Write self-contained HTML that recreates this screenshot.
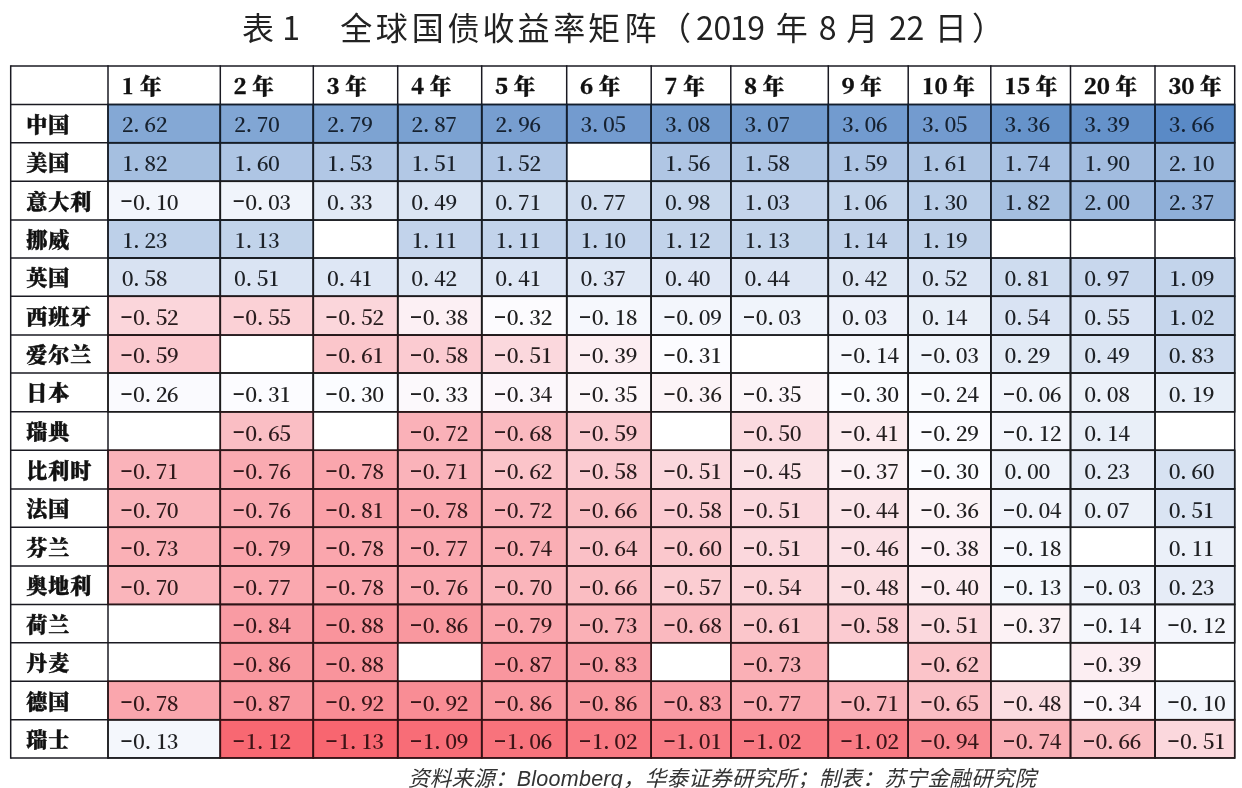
<!DOCTYPE html>
<html lang="zh-CN"><head><meta charset="utf-8"><title>表1 全球国债收益率矩阵</title>
<style>
html,body{margin:0;padding:0;background:#fff;}
body{width:1242px;height:788px;overflow:hidden;}
svg{display:block;filter:blur(0.45px);}
.title{font-family:"Noto Sans CJK SC","Liberation Sans",sans-serif;font-weight:400;font-size:32px;fill:#222;text-anchor:middle;}
.hd{font-family:"Noto Serif CJK SC","Liberation Serif",serif;font-weight:900;font-size:21.5px;fill:#111;stroke:#111;stroke-width:0.35px;text-anchor:middle;}
.ct{font-family:"Liberation Serif","Noto Serif CJK SC",serif;font-weight:900;font-size:21px;letter-spacing:1px;fill:#111;stroke:#111;stroke-width:0.45px;}
.num{font-family:"Noto Serif CJK SC","Liberation Serif",serif;font-weight:600;font-size:20.6px;text-anchor:middle;}
.dash{font-family:"IPAGothic","Liberation Mono",monospace;font-weight:400;font-size:25px;}
.ft{font-family:"Liberation Sans","Noto Sans CJK SC",sans-serif;font-style:italic;font-size:21.5px;letter-spacing:0.25px;fill:#333;}
</style></head><body>
<svg width="1242" height="788" viewBox="0 0 1242 788">
<rect x="0" y="0" width="1242" height="788" fill="#ffffff"/>
<text class="title" xml:space="preserve" y="39.5" x="257.9 274.5 291.2 323.8 356.3 391.7 427.8 463.6 498.4 533.6 569.3 604.0 640.6 675.0 704.8 722.4 739.0 756.1 774.0 791.8 809.7 827.6 844.9 862.2 880.0 897.9 915.5 933.1 950.7 988.0">表 1　全球国债收益率矩阵（2019 年 8 月 22 日）</text>
<rect x="108.0" y="104.50" width="112.3" height="38.20" fill="#84a8d5"/>
<rect x="220.3" y="104.50" width="93.0" height="38.20" fill="#81a6d4"/>
<rect x="313.3" y="104.50" width="84.4" height="38.20" fill="#7da3d2"/>
<rect x="397.7" y="104.50" width="84.0" height="38.20" fill="#7aa1d1"/>
<rect x="481.7" y="104.50" width="85.0" height="38.20" fill="#779ed0"/>
<rect x="566.7" y="104.50" width="84.5" height="38.20" fill="#739bcf"/>
<rect x="651.2" y="104.50" width="79.6" height="38.20" fill="#729bce"/>
<rect x="730.8" y="104.50" width="97.5" height="38.20" fill="#729bce"/>
<rect x="828.3" y="104.50" width="79.9" height="38.20" fill="#729bcf"/>
<rect x="908.2" y="104.50" width="82.6" height="38.20" fill="#739bcf"/>
<rect x="990.8" y="104.50" width="79.7" height="38.20" fill="#6693ca"/>
<rect x="1070.5" y="104.50" width="84.5" height="38.20" fill="#6592ca"/>
<rect x="1155.0" y="104.50" width="79.7" height="38.20" fill="#5a8ac6"/>
<rect x="108.0" y="142.70" width="112.3" height="38.60" fill="#a5bfe0"/>
<rect x="220.3" y="142.70" width="93.0" height="38.60" fill="#aec5e4"/>
<rect x="313.3" y="142.70" width="84.4" height="38.60" fill="#b1c7e5"/>
<rect x="397.7" y="142.70" width="84.0" height="38.60" fill="#b2c8e5"/>
<rect x="481.7" y="142.70" width="85.0" height="38.60" fill="#b1c7e5"/>
<rect x="651.2" y="142.70" width="79.6" height="38.60" fill="#b0c6e4"/>
<rect x="730.8" y="142.70" width="97.5" height="38.60" fill="#afc6e4"/>
<rect x="828.3" y="142.70" width="79.9" height="38.60" fill="#aec5e4"/>
<rect x="908.2" y="142.70" width="82.6" height="38.60" fill="#aec5e3"/>
<rect x="990.8" y="142.70" width="79.7" height="38.60" fill="#a8c1e2"/>
<rect x="1070.5" y="142.70" width="84.5" height="38.60" fill="#a2bcdf"/>
<rect x="1155.0" y="142.70" width="79.7" height="38.60" fill="#9ab7dc"/>
<rect x="108.0" y="181.30" width="112.3" height="38.80" fill="#f3f6fc"/>
<rect x="220.3" y="181.30" width="93.0" height="38.80" fill="#f0f4fb"/>
<rect x="313.3" y="181.30" width="84.4" height="38.80" fill="#e2eaf6"/>
<rect x="397.7" y="181.30" width="84.0" height="38.80" fill="#dbe5f3"/>
<rect x="481.7" y="181.30" width="85.0" height="38.80" fill="#d2dff0"/>
<rect x="566.7" y="181.30" width="84.5" height="38.80" fill="#d0ddef"/>
<rect x="651.2" y="181.30" width="79.6" height="38.80" fill="#c7d7ec"/>
<rect x="730.8" y="181.30" width="97.5" height="38.80" fill="#c5d5ec"/>
<rect x="828.3" y="181.30" width="79.9" height="38.80" fill="#c4d5eb"/>
<rect x="908.2" y="181.30" width="82.6" height="38.80" fill="#bacee8"/>
<rect x="990.8" y="181.30" width="79.7" height="38.80" fill="#a5bfe0"/>
<rect x="1070.5" y="181.30" width="84.5" height="38.80" fill="#9ebade"/>
<rect x="1155.0" y="181.30" width="79.7" height="38.80" fill="#8fafd8"/>
<rect x="108.0" y="220.10" width="112.3" height="37.90" fill="#bdd0e9"/>
<rect x="220.3" y="220.10" width="93.0" height="37.90" fill="#c1d3ea"/>
<rect x="397.7" y="220.10" width="84.0" height="37.90" fill="#c2d3eb"/>
<rect x="481.7" y="220.10" width="85.0" height="37.90" fill="#c2d3eb"/>
<rect x="566.7" y="220.10" width="84.5" height="37.90" fill="#c2d3eb"/>
<rect x="651.2" y="220.10" width="79.6" height="37.90" fill="#c2d3ea"/>
<rect x="730.8" y="220.10" width="97.5" height="37.90" fill="#c1d3ea"/>
<rect x="828.3" y="220.10" width="79.9" height="37.90" fill="#c1d2ea"/>
<rect x="908.2" y="220.10" width="82.6" height="37.90" fill="#bfd1e9"/>
<rect x="108.0" y="258.00" width="112.3" height="38.30" fill="#d8e2f2"/>
<rect x="220.3" y="258.00" width="93.0" height="38.30" fill="#dae4f3"/>
<rect x="313.3" y="258.00" width="84.4" height="38.30" fill="#dee7f5"/>
<rect x="397.7" y="258.00" width="84.0" height="38.30" fill="#dee7f4"/>
<rect x="481.7" y="258.00" width="85.0" height="38.30" fill="#dee7f5"/>
<rect x="566.7" y="258.00" width="84.5" height="38.30" fill="#e0e8f5"/>
<rect x="651.2" y="258.00" width="79.6" height="38.30" fill="#dfe7f5"/>
<rect x="730.8" y="258.00" width="97.5" height="38.30" fill="#dde6f4"/>
<rect x="828.3" y="258.00" width="79.9" height="38.30" fill="#dee7f4"/>
<rect x="908.2" y="258.00" width="82.6" height="38.30" fill="#dae4f3"/>
<rect x="990.8" y="258.00" width="79.7" height="38.30" fill="#cedcef"/>
<rect x="1070.5" y="258.00" width="84.5" height="38.30" fill="#c8d7ed"/>
<rect x="1155.0" y="258.00" width="79.7" height="38.30" fill="#c3d4eb"/>
<rect x="108.0" y="296.30" width="112.3" height="38.80" fill="#fbd6db"/>
<rect x="220.3" y="296.30" width="93.0" height="38.80" fill="#fbd1d6"/>
<rect x="313.3" y="296.30" width="84.4" height="38.80" fill="#fbd6db"/>
<rect x="397.7" y="296.30" width="84.0" height="38.80" fill="#fcf0f4"/>
<rect x="481.7" y="296.30" width="85.0" height="38.80" fill="#fcfbfe"/>
<rect x="566.7" y="296.30" width="84.5" height="38.80" fill="#f6f8fd"/>
<rect x="651.2" y="296.30" width="79.6" height="38.80" fill="#f3f6fc"/>
<rect x="730.8" y="296.30" width="97.5" height="38.80" fill="#f0f4fb"/>
<rect x="828.3" y="296.30" width="79.9" height="38.80" fill="#eef2fa"/>
<rect x="908.2" y="296.30" width="82.6" height="38.80" fill="#e9eff8"/>
<rect x="990.8" y="296.30" width="79.7" height="38.80" fill="#d9e3f3"/>
<rect x="1070.5" y="296.30" width="84.5" height="38.80" fill="#d9e3f3"/>
<rect x="1155.0" y="296.30" width="79.7" height="38.80" fill="#c6d6ec"/>
<rect x="108.0" y="335.10" width="112.3" height="37.90" fill="#fbc9cf"/>
<rect x="313.3" y="335.10" width="84.4" height="37.90" fill="#fbc6cb"/>
<rect x="397.7" y="335.10" width="84.0" height="37.90" fill="#fbcbd1"/>
<rect x="481.7" y="335.10" width="85.0" height="37.90" fill="#fbd8dd"/>
<rect x="566.7" y="335.10" width="84.5" height="37.90" fill="#fceef2"/>
<rect x="651.2" y="335.10" width="79.6" height="37.90" fill="#fcfcff"/>
<rect x="828.3" y="335.10" width="79.9" height="37.90" fill="#f5f7fc"/>
<rect x="908.2" y="335.10" width="82.6" height="37.90" fill="#f0f4fb"/>
<rect x="990.8" y="335.10" width="79.7" height="37.90" fill="#e3ebf6"/>
<rect x="1070.5" y="335.10" width="84.5" height="37.90" fill="#dbe5f3"/>
<rect x="1155.0" y="335.10" width="79.7" height="37.90" fill="#cddbef"/>
<rect x="108.0" y="373.00" width="112.3" height="38.80" fill="#fafafe"/>
<rect x="220.3" y="373.00" width="93.0" height="38.80" fill="#fcfcff"/>
<rect x="313.3" y="373.00" width="84.4" height="38.80" fill="#fbfcff"/>
<rect x="397.7" y="373.00" width="84.0" height="38.80" fill="#fcf9fc"/>
<rect x="481.7" y="373.00" width="85.0" height="38.80" fill="#fcf7fb"/>
<rect x="566.7" y="373.00" width="84.5" height="38.80" fill="#fcf6f9"/>
<rect x="651.2" y="373.00" width="79.6" height="38.80" fill="#fcf4f7"/>
<rect x="730.8" y="373.00" width="97.5" height="38.80" fill="#fcf6f9"/>
<rect x="828.3" y="373.00" width="79.9" height="38.80" fill="#fbfcff"/>
<rect x="908.2" y="373.00" width="82.6" height="38.80" fill="#f9fafe"/>
<rect x="990.8" y="373.00" width="79.7" height="38.80" fill="#f2f5fb"/>
<rect x="1070.5" y="373.00" width="84.5" height="38.80" fill="#ecf1f9"/>
<rect x="1155.0" y="373.00" width="79.7" height="38.80" fill="#e7eef8"/>
<rect x="220.3" y="411.80" width="93.0" height="38.50" fill="#fabec4"/>
<rect x="397.7" y="411.80" width="84.0" height="38.50" fill="#fab1b8"/>
<rect x="481.7" y="411.80" width="85.0" height="38.50" fill="#fab9bf"/>
<rect x="566.7" y="411.80" width="84.5" height="38.50" fill="#fbc9cf"/>
<rect x="730.8" y="411.80" width="97.5" height="38.50" fill="#fbdadf"/>
<rect x="828.3" y="411.80" width="79.9" height="38.50" fill="#fcebee"/>
<rect x="908.2" y="411.80" width="82.6" height="38.50" fill="#fbfbff"/>
<rect x="990.8" y="411.80" width="79.7" height="38.50" fill="#f4f6fc"/>
<rect x="1070.5" y="411.80" width="84.5" height="38.50" fill="#e9eff8"/>
<rect x="108.0" y="450.30" width="112.3" height="38.60" fill="#fab3ba"/>
<rect x="220.3" y="450.30" width="93.0" height="38.60" fill="#faaab1"/>
<rect x="313.3" y="450.30" width="84.4" height="38.60" fill="#faa6ad"/>
<rect x="397.7" y="450.30" width="84.0" height="38.60" fill="#fab3ba"/>
<rect x="481.7" y="450.30" width="85.0" height="38.60" fill="#fbc4c9"/>
<rect x="566.7" y="450.30" width="84.5" height="38.60" fill="#fbcbd1"/>
<rect x="651.2" y="450.30" width="79.6" height="38.60" fill="#fbd8dd"/>
<rect x="730.8" y="450.30" width="97.5" height="38.60" fill="#fbe3e7"/>
<rect x="828.3" y="450.30" width="79.9" height="38.60" fill="#fcf2f5"/>
<rect x="908.2" y="450.30" width="82.6" height="38.60" fill="#fbfcff"/>
<rect x="990.8" y="450.30" width="79.7" height="38.60" fill="#eff3fa"/>
<rect x="1070.5" y="450.30" width="84.5" height="38.60" fill="#e6ecf7"/>
<rect x="1155.0" y="450.30" width="79.7" height="38.60" fill="#d7e2f2"/>
<rect x="108.0" y="488.90" width="112.3" height="38.40" fill="#fab5bb"/>
<rect x="220.3" y="488.90" width="93.0" height="38.40" fill="#faaab1"/>
<rect x="313.3" y="488.90" width="84.4" height="38.40" fill="#faa1a8"/>
<rect x="397.7" y="488.90" width="84.0" height="38.40" fill="#faa6ad"/>
<rect x="481.7" y="488.90" width="85.0" height="38.40" fill="#fab1b8"/>
<rect x="566.7" y="488.90" width="84.5" height="38.40" fill="#fabdc2"/>
<rect x="651.2" y="488.90" width="79.6" height="38.40" fill="#fbcbd1"/>
<rect x="730.8" y="488.90" width="97.5" height="38.40" fill="#fbd8dd"/>
<rect x="828.3" y="488.90" width="79.9" height="38.40" fill="#fbe5e9"/>
<rect x="908.2" y="488.90" width="82.6" height="38.40" fill="#fcf4f7"/>
<rect x="990.8" y="488.90" width="79.7" height="38.40" fill="#f1f4fb"/>
<rect x="1070.5" y="488.90" width="84.5" height="38.40" fill="#ecf1f9"/>
<rect x="1155.0" y="488.90" width="79.7" height="38.40" fill="#dae4f3"/>
<rect x="108.0" y="527.30" width="112.3" height="38.60" fill="#fab0b6"/>
<rect x="220.3" y="527.30" width="93.0" height="38.60" fill="#faa5ac"/>
<rect x="313.3" y="527.30" width="84.4" height="38.60" fill="#faa6ad"/>
<rect x="397.7" y="527.30" width="84.0" height="38.60" fill="#faa8af"/>
<rect x="481.7" y="527.30" width="85.0" height="38.60" fill="#faaeb4"/>
<rect x="566.7" y="527.30" width="84.5" height="38.60" fill="#fac0c6"/>
<rect x="651.2" y="527.30" width="79.6" height="38.60" fill="#fbc8cd"/>
<rect x="730.8" y="527.30" width="97.5" height="38.60" fill="#fbd8dd"/>
<rect x="828.3" y="527.30" width="79.9" height="38.60" fill="#fbe1e6"/>
<rect x="908.2" y="527.30" width="82.6" height="38.60" fill="#fcf0f4"/>
<rect x="990.8" y="527.30" width="79.7" height="38.60" fill="#f6f8fd"/>
<rect x="1155.0" y="527.30" width="79.7" height="38.60" fill="#ebf0f9"/>
<rect x="108.0" y="565.90" width="112.3" height="38.50" fill="#fab5bb"/>
<rect x="220.3" y="565.90" width="93.0" height="38.50" fill="#faa8af"/>
<rect x="313.3" y="565.90" width="84.4" height="38.50" fill="#faa6ad"/>
<rect x="397.7" y="565.90" width="84.0" height="38.50" fill="#faaab1"/>
<rect x="481.7" y="565.90" width="85.0" height="38.50" fill="#fab5bb"/>
<rect x="566.7" y="565.90" width="84.5" height="38.50" fill="#fabdc2"/>
<rect x="651.2" y="565.90" width="79.6" height="38.50" fill="#fbcdd2"/>
<rect x="730.8" y="565.90" width="97.5" height="38.50" fill="#fbd3d8"/>
<rect x="828.3" y="565.90" width="79.9" height="38.50" fill="#fbdee2"/>
<rect x="908.2" y="565.90" width="82.6" height="38.50" fill="#fcecf0"/>
<rect x="990.8" y="565.90" width="79.7" height="38.50" fill="#f4f7fc"/>
<rect x="1070.5" y="565.90" width="84.5" height="38.50" fill="#f0f4fb"/>
<rect x="1155.0" y="565.90" width="79.7" height="38.50" fill="#e6ecf7"/>
<rect x="220.3" y="604.40" width="93.0" height="38.30" fill="#f99ba3"/>
<rect x="313.3" y="604.40" width="84.4" height="38.30" fill="#f9949c"/>
<rect x="397.7" y="604.40" width="84.0" height="38.30" fill="#f9989f"/>
<rect x="481.7" y="604.40" width="85.0" height="38.30" fill="#faa5ac"/>
<rect x="566.7" y="604.40" width="84.5" height="38.30" fill="#fab0b6"/>
<rect x="651.2" y="604.40" width="79.6" height="38.30" fill="#fab9bf"/>
<rect x="730.8" y="604.40" width="97.5" height="38.30" fill="#fbc6cb"/>
<rect x="828.3" y="604.40" width="79.9" height="38.30" fill="#fbcbd1"/>
<rect x="908.2" y="604.40" width="82.6" height="38.30" fill="#fbd8dd"/>
<rect x="990.8" y="604.40" width="79.7" height="38.30" fill="#fcf2f5"/>
<rect x="1070.5" y="604.40" width="84.5" height="38.30" fill="#f5f7fc"/>
<rect x="1155.0" y="604.40" width="79.7" height="38.30" fill="#f4f6fc"/>
<rect x="220.3" y="642.70" width="93.0" height="38.60" fill="#f9989f"/>
<rect x="313.3" y="642.70" width="84.4" height="38.60" fill="#f9949c"/>
<rect x="481.7" y="642.70" width="85.0" height="38.60" fill="#f9969e"/>
<rect x="566.7" y="642.70" width="84.5" height="38.60" fill="#f99da5"/>
<rect x="730.8" y="642.70" width="97.5" height="38.60" fill="#fab0b6"/>
<rect x="908.2" y="642.70" width="82.6" height="38.60" fill="#fbc4c9"/>
<rect x="1070.5" y="642.70" width="84.5" height="38.60" fill="#fceef2"/>
<rect x="108.0" y="681.30" width="112.3" height="38.40" fill="#faa6ad"/>
<rect x="220.3" y="681.30" width="93.0" height="38.40" fill="#f9969e"/>
<rect x="313.3" y="681.30" width="84.4" height="38.40" fill="#f98d95"/>
<rect x="397.7" y="681.30" width="84.0" height="38.40" fill="#f98d95"/>
<rect x="481.7" y="681.30" width="85.0" height="38.40" fill="#f9989f"/>
<rect x="566.7" y="681.30" width="84.5" height="38.40" fill="#f9989f"/>
<rect x="651.2" y="681.30" width="79.6" height="38.40" fill="#f99da5"/>
<rect x="730.8" y="681.30" width="97.5" height="38.40" fill="#faa8af"/>
<rect x="828.3" y="681.30" width="79.9" height="38.40" fill="#fab3ba"/>
<rect x="908.2" y="681.30" width="82.6" height="38.40" fill="#fabec4"/>
<rect x="990.8" y="681.30" width="79.7" height="38.40" fill="#fbdee2"/>
<rect x="1070.5" y="681.30" width="84.5" height="38.40" fill="#fcf7fb"/>
<rect x="1155.0" y="681.30" width="79.7" height="38.40" fill="#f3f6fc"/>
<rect x="108.0" y="719.70" width="112.3" height="38.20" fill="#f4f7fc"/>
<rect x="220.3" y="719.70" width="93.0" height="38.20" fill="#f86872"/>
<rect x="313.3" y="719.70" width="84.4" height="38.20" fill="#f86670"/>
<rect x="397.7" y="719.70" width="84.0" height="38.20" fill="#f86d77"/>
<rect x="481.7" y="719.70" width="85.0" height="38.20" fill="#f8737c"/>
<rect x="566.7" y="719.70" width="84.5" height="38.20" fill="#f97a83"/>
<rect x="651.2" y="719.70" width="79.6" height="38.20" fill="#f97c85"/>
<rect x="730.8" y="719.70" width="97.5" height="38.20" fill="#f97a83"/>
<rect x="828.3" y="719.70" width="79.9" height="38.20" fill="#f97a83"/>
<rect x="908.2" y="719.70" width="82.6" height="38.20" fill="#f98991"/>
<rect x="990.8" y="719.70" width="79.7" height="38.20" fill="#faaeb4"/>
<rect x="1070.5" y="719.70" width="84.5" height="38.20" fill="#fabdc2"/>
<rect x="1155.0" y="719.70" width="79.7" height="38.20" fill="#fbd8dd"/>
<g stroke="#1a1a22" stroke-width="1.5" fill="none">
<line x1="10.7" y1="65.35" x2="10.7" y2="758.65"/>
<line x1="108.0" y1="65.35" x2="108.0" y2="758.65"/>
<line x1="220.3" y1="65.35" x2="220.3" y2="758.65"/>
<line x1="313.3" y1="65.35" x2="313.3" y2="758.65"/>
<line x1="397.7" y1="65.35" x2="397.7" y2="758.65"/>
<line x1="481.7" y1="65.35" x2="481.7" y2="758.65"/>
<line x1="566.7" y1="65.35" x2="566.7" y2="758.65"/>
<line x1="651.2" y1="65.35" x2="651.2" y2="758.65"/>
<line x1="730.8" y1="65.35" x2="730.8" y2="758.65"/>
<line x1="828.3" y1="65.35" x2="828.3" y2="758.65"/>
<line x1="908.2" y1="65.35" x2="908.2" y2="758.65"/>
<line x1="990.8" y1="65.35" x2="990.8" y2="758.65"/>
<line x1="1070.5" y1="65.35" x2="1070.5" y2="758.65"/>
<line x1="1155.0" y1="65.35" x2="1155.0" y2="758.65"/>
<line x1="1234.7" y1="65.35" x2="1234.7" y2="758.65"/>
<line x1="10.7" y1="66.10" x2="1234.7" y2="66.10"/>
<line x1="10.7" y1="104.50" x2="1234.7" y2="104.50"/>
<line x1="10.7" y1="142.70" x2="1234.7" y2="142.70"/>
<line x1="10.7" y1="181.30" x2="1234.7" y2="181.30"/>
<line x1="10.7" y1="220.10" x2="1234.7" y2="220.10"/>
<line x1="10.7" y1="258.00" x2="1234.7" y2="258.00"/>
<line x1="10.7" y1="296.30" x2="1234.7" y2="296.30"/>
<line x1="10.7" y1="335.10" x2="1234.7" y2="335.10"/>
<line x1="10.7" y1="373.00" x2="1234.7" y2="373.00"/>
<line x1="10.7" y1="411.80" x2="1234.7" y2="411.80"/>
<line x1="10.7" y1="450.30" x2="1234.7" y2="450.30"/>
<line x1="10.7" y1="488.90" x2="1234.7" y2="488.90"/>
<line x1="10.7" y1="527.30" x2="1234.7" y2="527.30"/>
<line x1="10.7" y1="565.90" x2="1234.7" y2="565.90"/>
<line x1="10.7" y1="604.40" x2="1234.7" y2="604.40"/>
<line x1="10.7" y1="642.70" x2="1234.7" y2="642.70"/>
<line x1="10.7" y1="681.30" x2="1234.7" y2="681.30"/>
<line x1="10.7" y1="719.70" x2="1234.7" y2="719.70"/>
<line x1="10.7" y1="757.90" x2="1234.7" y2="757.90"/>
</g>
<rect x="108.0" y="104.50" width="112.3" height="38.20" fill="none" stroke="#131e2b" stroke-width="1.5"/>
<rect x="220.3" y="104.50" width="93.0" height="38.20" fill="none" stroke="#131e2c" stroke-width="1.5"/>
<rect x="313.3" y="104.50" width="84.4" height="38.20" fill="none" stroke="#121e2c" stroke-width="1.5"/>
<rect x="397.7" y="104.50" width="84.0" height="38.20" fill="none" stroke="#121e2c" stroke-width="1.5"/>
<rect x="481.7" y="104.50" width="85.0" height="38.20" fill="none" stroke="#121e2d" stroke-width="1.5"/>
<rect x="566.7" y="104.50" width="84.5" height="38.20" fill="none" stroke="#121e2d" stroke-width="1.5"/>
<rect x="651.2" y="104.50" width="79.6" height="38.20" fill="none" stroke="#121e2d" stroke-width="1.5"/>
<rect x="730.8" y="104.50" width="97.5" height="38.20" fill="none" stroke="#121e2d" stroke-width="1.5"/>
<rect x="828.3" y="104.50" width="79.9" height="38.20" fill="none" stroke="#121e2d" stroke-width="1.5"/>
<rect x="908.2" y="104.50" width="82.6" height="38.20" fill="none" stroke="#121e2d" stroke-width="1.5"/>
<rect x="990.8" y="104.50" width="79.7" height="38.20" fill="none" stroke="#111e2f" stroke-width="1.5"/>
<rect x="1070.5" y="104.50" width="84.5" height="38.20" fill="none" stroke="#111e2f" stroke-width="1.5"/>
<rect x="1155.0" y="104.50" width="79.7" height="38.20" fill="none" stroke="#101e30" stroke-width="1.5"/>
<rect x="108.0" y="142.70" width="112.3" height="38.60" fill="none" stroke="#151d27" stroke-width="1.5"/>
<rect x="220.3" y="142.70" width="93.0" height="38.60" fill="none" stroke="#161d26" stroke-width="1.5"/>
<rect x="313.3" y="142.70" width="84.4" height="38.60" fill="none" stroke="#161d26" stroke-width="1.5"/>
<rect x="397.7" y="142.70" width="84.0" height="38.60" fill="none" stroke="#161d26" stroke-width="1.5"/>
<rect x="481.7" y="142.70" width="85.0" height="38.60" fill="none" stroke="#161d26" stroke-width="1.5"/>
<rect x="651.2" y="142.70" width="79.6" height="38.60" fill="none" stroke="#161d26" stroke-width="1.5"/>
<rect x="730.8" y="142.70" width="97.5" height="38.60" fill="none" stroke="#161d26" stroke-width="1.5"/>
<rect x="828.3" y="142.70" width="79.9" height="38.60" fill="none" stroke="#161d26" stroke-width="1.5"/>
<rect x="908.2" y="142.70" width="82.6" height="38.60" fill="none" stroke="#161d26" stroke-width="1.5"/>
<rect x="990.8" y="142.70" width="79.7" height="38.60" fill="none" stroke="#161d27" stroke-width="1.5"/>
<rect x="1070.5" y="142.70" width="84.5" height="38.60" fill="none" stroke="#151d28" stroke-width="1.5"/>
<rect x="1155.0" y="142.70" width="79.7" height="38.60" fill="none" stroke="#151d29" stroke-width="1.5"/>
<rect x="108.0" y="181.30" width="112.3" height="38.80" fill="none" stroke="#1b1c1e" stroke-width="1.5"/>
<rect x="220.3" y="181.30" width="93.0" height="38.80" fill="none" stroke="#1b1c1e" stroke-width="1.5"/>
<rect x="313.3" y="181.30" width="84.4" height="38.80" fill="none" stroke="#1a1c20" stroke-width="1.5"/>
<rect x="397.7" y="181.30" width="84.0" height="38.80" fill="none" stroke="#191c21" stroke-width="1.5"/>
<rect x="481.7" y="181.30" width="85.0" height="38.80" fill="none" stroke="#191d22" stroke-width="1.5"/>
<rect x="566.7" y="181.30" width="84.5" height="38.80" fill="none" stroke="#191d22" stroke-width="1.5"/>
<rect x="651.2" y="181.30" width="79.6" height="38.80" fill="none" stroke="#181d23" stroke-width="1.5"/>
<rect x="730.8" y="181.30" width="97.5" height="38.80" fill="none" stroke="#181d23" stroke-width="1.5"/>
<rect x="828.3" y="181.30" width="79.9" height="38.80" fill="none" stroke="#181d24" stroke-width="1.5"/>
<rect x="908.2" y="181.30" width="82.6" height="38.80" fill="none" stroke="#171d25" stroke-width="1.5"/>
<rect x="990.8" y="181.30" width="79.7" height="38.80" fill="none" stroke="#151d27" stroke-width="1.5"/>
<rect x="1070.5" y="181.30" width="84.5" height="38.80" fill="none" stroke="#151d28" stroke-width="1.5"/>
<rect x="1155.0" y="181.30" width="79.7" height="38.80" fill="none" stroke="#141d2a" stroke-width="1.5"/>
<rect x="108.0" y="220.10" width="112.3" height="37.90" fill="none" stroke="#171d24" stroke-width="1.5"/>
<rect x="220.3" y="220.10" width="93.0" height="37.90" fill="none" stroke="#181d24" stroke-width="1.5"/>
<rect x="397.7" y="220.10" width="84.0" height="37.90" fill="none" stroke="#181d24" stroke-width="1.5"/>
<rect x="481.7" y="220.10" width="85.0" height="37.90" fill="none" stroke="#181d24" stroke-width="1.5"/>
<rect x="566.7" y="220.10" width="84.5" height="37.90" fill="none" stroke="#181d24" stroke-width="1.5"/>
<rect x="651.2" y="220.10" width="79.6" height="37.90" fill="none" stroke="#181d24" stroke-width="1.5"/>
<rect x="730.8" y="220.10" width="97.5" height="37.90" fill="none" stroke="#181d24" stroke-width="1.5"/>
<rect x="828.3" y="220.10" width="79.9" height="37.90" fill="none" stroke="#171d24" stroke-width="1.5"/>
<rect x="908.2" y="220.10" width="82.6" height="37.90" fill="none" stroke="#171d24" stroke-width="1.5"/>
<rect x="108.0" y="258.00" width="112.3" height="38.30" fill="none" stroke="#191c21" stroke-width="1.5"/>
<rect x="220.3" y="258.00" width="93.0" height="38.30" fill="none" stroke="#191c21" stroke-width="1.5"/>
<rect x="313.3" y="258.00" width="84.4" height="38.30" fill="none" stroke="#1a1c20" stroke-width="1.5"/>
<rect x="397.7" y="258.00" width="84.0" height="38.30" fill="none" stroke="#1a1c20" stroke-width="1.5"/>
<rect x="481.7" y="258.00" width="85.0" height="38.30" fill="none" stroke="#1a1c20" stroke-width="1.5"/>
<rect x="566.7" y="258.00" width="84.5" height="38.30" fill="none" stroke="#1a1c20" stroke-width="1.5"/>
<rect x="651.2" y="258.00" width="79.6" height="38.30" fill="none" stroke="#1a1c20" stroke-width="1.5"/>
<rect x="730.8" y="258.00" width="97.5" height="38.30" fill="none" stroke="#1a1c20" stroke-width="1.5"/>
<rect x="828.3" y="258.00" width="79.9" height="38.30" fill="none" stroke="#1a1c20" stroke-width="1.5"/>
<rect x="908.2" y="258.00" width="82.6" height="38.30" fill="none" stroke="#191c21" stroke-width="1.5"/>
<rect x="990.8" y="258.00" width="79.7" height="38.30" fill="none" stroke="#181d22" stroke-width="1.5"/>
<rect x="1070.5" y="258.00" width="84.5" height="38.30" fill="none" stroke="#181d23" stroke-width="1.5"/>
<rect x="1155.0" y="258.00" width="79.7" height="38.30" fill="none" stroke="#181d24" stroke-width="1.5"/>
<rect x="108.0" y="296.30" width="112.3" height="38.80" fill="none" stroke="#24191a" stroke-width="1.5"/>
<rect x="220.3" y="296.30" width="93.0" height="38.80" fill="none" stroke="#25181a" stroke-width="1.5"/>
<rect x="313.3" y="296.30" width="84.4" height="38.80" fill="none" stroke="#24191a" stroke-width="1.5"/>
<rect x="397.7" y="296.30" width="84.0" height="38.80" fill="none" stroke="#1e1b1c" stroke-width="1.5"/>
<rect x="481.7" y="296.30" width="85.0" height="38.80" fill="none" stroke="#1c1c1d" stroke-width="1.5"/>
<rect x="566.7" y="296.30" width="84.5" height="38.80" fill="none" stroke="#1b1c1d" stroke-width="1.5"/>
<rect x="651.2" y="296.30" width="79.6" height="38.80" fill="none" stroke="#1b1c1e" stroke-width="1.5"/>
<rect x="730.8" y="296.30" width="97.5" height="38.80" fill="none" stroke="#1b1c1e" stroke-width="1.5"/>
<rect x="828.3" y="296.30" width="79.9" height="38.80" fill="none" stroke="#1b1c1e" stroke-width="1.5"/>
<rect x="908.2" y="296.30" width="82.6" height="38.80" fill="none" stroke="#1b1c1f" stroke-width="1.5"/>
<rect x="990.8" y="296.30" width="79.7" height="38.80" fill="none" stroke="#191c21" stroke-width="1.5"/>
<rect x="1070.5" y="296.30" width="84.5" height="38.80" fill="none" stroke="#191c21" stroke-width="1.5"/>
<rect x="1155.0" y="296.30" width="79.7" height="38.80" fill="none" stroke="#181d23" stroke-width="1.5"/>
<rect x="108.0" y="335.10" width="112.3" height="37.90" fill="none" stroke="#261719" stroke-width="1.5"/>
<rect x="313.3" y="335.10" width="84.4" height="37.90" fill="none" stroke="#271719" stroke-width="1.5"/>
<rect x="397.7" y="335.10" width="84.0" height="37.90" fill="none" stroke="#261819" stroke-width="1.5"/>
<rect x="481.7" y="335.10" width="85.0" height="37.90" fill="none" stroke="#23191a" stroke-width="1.5"/>
<rect x="566.7" y="335.10" width="84.5" height="37.90" fill="none" stroke="#1f1b1c" stroke-width="1.5"/>
<rect x="651.2" y="335.10" width="79.6" height="37.90" fill="none" stroke="#1c1c1d" stroke-width="1.5"/>
<rect x="828.3" y="335.10" width="79.9" height="37.90" fill="none" stroke="#1b1c1e" stroke-width="1.5"/>
<rect x="908.2" y="335.10" width="82.6" height="37.90" fill="none" stroke="#1b1c1e" stroke-width="1.5"/>
<rect x="990.8" y="335.10" width="79.7" height="37.90" fill="none" stroke="#1a1c20" stroke-width="1.5"/>
<rect x="1070.5" y="335.10" width="84.5" height="37.90" fill="none" stroke="#191c21" stroke-width="1.5"/>
<rect x="1155.0" y="335.10" width="79.7" height="37.90" fill="none" stroke="#181d22" stroke-width="1.5"/>
<rect x="108.0" y="373.00" width="112.3" height="38.80" fill="none" stroke="#1c1c1d" stroke-width="1.5"/>
<rect x="220.3" y="373.00" width="93.0" height="38.80" fill="none" stroke="#1c1c1d" stroke-width="1.5"/>
<rect x="313.3" y="373.00" width="84.4" height="38.80" fill="none" stroke="#1c1c1d" stroke-width="1.5"/>
<rect x="397.7" y="373.00" width="84.0" height="38.80" fill="none" stroke="#1c1c1d" stroke-width="1.5"/>
<rect x="481.7" y="373.00" width="85.0" height="38.80" fill="none" stroke="#1d1b1c" stroke-width="1.5"/>
<rect x="566.7" y="373.00" width="84.5" height="38.80" fill="none" stroke="#1d1b1c" stroke-width="1.5"/>
<rect x="651.2" y="373.00" width="79.6" height="38.80" fill="none" stroke="#1e1b1c" stroke-width="1.5"/>
<rect x="730.8" y="373.00" width="97.5" height="38.80" fill="none" stroke="#1d1b1c" stroke-width="1.5"/>
<rect x="828.3" y="373.00" width="79.9" height="38.80" fill="none" stroke="#1c1c1d" stroke-width="1.5"/>
<rect x="908.2" y="373.00" width="82.6" height="38.80" fill="none" stroke="#1c1c1d" stroke-width="1.5"/>
<rect x="990.8" y="373.00" width="79.7" height="38.80" fill="none" stroke="#1b1c1e" stroke-width="1.5"/>
<rect x="1070.5" y="373.00" width="84.5" height="38.80" fill="none" stroke="#1b1c1f" stroke-width="1.5"/>
<rect x="1155.0" y="373.00" width="79.7" height="38.80" fill="none" stroke="#1a1c1f" stroke-width="1.5"/>
<rect x="220.3" y="411.80" width="93.0" height="38.50" fill="none" stroke="#281618" stroke-width="1.5"/>
<rect x="397.7" y="411.80" width="84.0" height="38.50" fill="none" stroke="#2b1517" stroke-width="1.5"/>
<rect x="481.7" y="411.80" width="85.0" height="38.50" fill="none" stroke="#2a1618" stroke-width="1.5"/>
<rect x="566.7" y="411.80" width="84.5" height="38.50" fill="none" stroke="#261719" stroke-width="1.5"/>
<rect x="730.8" y="411.80" width="97.5" height="38.50" fill="none" stroke="#23191a" stroke-width="1.5"/>
<rect x="828.3" y="411.80" width="79.9" height="38.50" fill="none" stroke="#1f1a1b" stroke-width="1.5"/>
<rect x="908.2" y="411.80" width="82.6" height="38.50" fill="none" stroke="#1c1c1d" stroke-width="1.5"/>
<rect x="990.8" y="411.80" width="79.7" height="38.50" fill="none" stroke="#1b1c1e" stroke-width="1.5"/>
<rect x="1070.5" y="411.80" width="84.5" height="38.50" fill="none" stroke="#1b1c1f" stroke-width="1.5"/>
<rect x="108.0" y="450.30" width="112.3" height="38.60" fill="none" stroke="#2b1517" stroke-width="1.5"/>
<rect x="220.3" y="450.30" width="93.0" height="38.60" fill="none" stroke="#2d1517" stroke-width="1.5"/>
<rect x="313.3" y="450.30" width="84.4" height="38.60" fill="none" stroke="#2d1416" stroke-width="1.5"/>
<rect x="397.7" y="450.30" width="84.0" height="38.60" fill="none" stroke="#2b1517" stroke-width="1.5"/>
<rect x="481.7" y="450.30" width="85.0" height="38.60" fill="none" stroke="#271719" stroke-width="1.5"/>
<rect x="566.7" y="450.30" width="84.5" height="38.60" fill="none" stroke="#261819" stroke-width="1.5"/>
<rect x="651.2" y="450.30" width="79.6" height="38.60" fill="none" stroke="#23191a" stroke-width="1.5"/>
<rect x="730.8" y="450.30" width="97.5" height="38.60" fill="none" stroke="#211a1b" stroke-width="1.5"/>
<rect x="828.3" y="450.30" width="79.9" height="38.60" fill="none" stroke="#1e1b1c" stroke-width="1.5"/>
<rect x="908.2" y="450.30" width="82.6" height="38.60" fill="none" stroke="#1c1c1d" stroke-width="1.5"/>
<rect x="990.8" y="450.30" width="79.7" height="38.60" fill="none" stroke="#1b1c1e" stroke-width="1.5"/>
<rect x="1070.5" y="450.30" width="84.5" height="38.60" fill="none" stroke="#1a1c1f" stroke-width="1.5"/>
<rect x="1155.0" y="450.30" width="79.7" height="38.60" fill="none" stroke="#191c21" stroke-width="1.5"/>
<rect x="108.0" y="488.90" width="112.3" height="38.40" fill="none" stroke="#2a1617" stroke-width="1.5"/>
<rect x="220.3" y="488.90" width="93.0" height="38.40" fill="none" stroke="#2d1517" stroke-width="1.5"/>
<rect x="313.3" y="488.90" width="84.4" height="38.40" fill="none" stroke="#2e1416" stroke-width="1.5"/>
<rect x="397.7" y="488.90" width="84.0" height="38.40" fill="none" stroke="#2d1416" stroke-width="1.5"/>
<rect x="481.7" y="488.90" width="85.0" height="38.40" fill="none" stroke="#2b1517" stroke-width="1.5"/>
<rect x="566.7" y="488.90" width="84.5" height="38.40" fill="none" stroke="#291618" stroke-width="1.5"/>
<rect x="651.2" y="488.90" width="79.6" height="38.40" fill="none" stroke="#261819" stroke-width="1.5"/>
<rect x="730.8" y="488.90" width="97.5" height="38.40" fill="none" stroke="#23191a" stroke-width="1.5"/>
<rect x="828.3" y="488.90" width="79.9" height="38.40" fill="none" stroke="#211a1b" stroke-width="1.5"/>
<rect x="908.2" y="488.90" width="82.6" height="38.40" fill="none" stroke="#1e1b1c" stroke-width="1.5"/>
<rect x="990.8" y="488.90" width="79.7" height="38.40" fill="none" stroke="#1b1c1e" stroke-width="1.5"/>
<rect x="1070.5" y="488.90" width="84.5" height="38.40" fill="none" stroke="#1b1c1f" stroke-width="1.5"/>
<rect x="1155.0" y="488.90" width="79.7" height="38.40" fill="none" stroke="#191c21" stroke-width="1.5"/>
<rect x="108.0" y="527.30" width="112.3" height="38.60" fill="none" stroke="#2b1517" stroke-width="1.5"/>
<rect x="220.3" y="527.30" width="93.0" height="38.60" fill="none" stroke="#2e1416" stroke-width="1.5"/>
<rect x="313.3" y="527.30" width="84.4" height="38.60" fill="none" stroke="#2d1416" stroke-width="1.5"/>
<rect x="397.7" y="527.30" width="84.0" height="38.60" fill="none" stroke="#2d1417" stroke-width="1.5"/>
<rect x="481.7" y="527.30" width="85.0" height="38.60" fill="none" stroke="#2c1517" stroke-width="1.5"/>
<rect x="566.7" y="527.30" width="84.5" height="38.60" fill="none" stroke="#281718" stroke-width="1.5"/>
<rect x="651.2" y="527.30" width="79.6" height="38.60" fill="none" stroke="#271719" stroke-width="1.5"/>
<rect x="730.8" y="527.30" width="97.5" height="38.60" fill="none" stroke="#23191a" stroke-width="1.5"/>
<rect x="828.3" y="527.30" width="79.9" height="38.60" fill="none" stroke="#211a1b" stroke-width="1.5"/>
<rect x="908.2" y="527.30" width="82.6" height="38.60" fill="none" stroke="#1e1b1c" stroke-width="1.5"/>
<rect x="990.8" y="527.30" width="79.7" height="38.60" fill="none" stroke="#1b1c1d" stroke-width="1.5"/>
<rect x="1155.0" y="527.30" width="79.7" height="38.60" fill="none" stroke="#1b1c1f" stroke-width="1.5"/>
<rect x="108.0" y="565.90" width="112.3" height="38.50" fill="none" stroke="#2a1617" stroke-width="1.5"/>
<rect x="220.3" y="565.90" width="93.0" height="38.50" fill="none" stroke="#2d1417" stroke-width="1.5"/>
<rect x="313.3" y="565.90" width="84.4" height="38.50" fill="none" stroke="#2d1416" stroke-width="1.5"/>
<rect x="397.7" y="565.90" width="84.0" height="38.50" fill="none" stroke="#2d1517" stroke-width="1.5"/>
<rect x="481.7" y="565.90" width="85.0" height="38.50" fill="none" stroke="#2a1617" stroke-width="1.5"/>
<rect x="566.7" y="565.90" width="84.5" height="38.50" fill="none" stroke="#291618" stroke-width="1.5"/>
<rect x="651.2" y="565.90" width="79.6" height="38.50" fill="none" stroke="#251819" stroke-width="1.5"/>
<rect x="730.8" y="565.90" width="97.5" height="38.50" fill="none" stroke="#24181a" stroke-width="1.5"/>
<rect x="828.3" y="565.90" width="79.9" height="38.50" fill="none" stroke="#22191b" stroke-width="1.5"/>
<rect x="908.2" y="565.90" width="82.6" height="38.50" fill="none" stroke="#1f1b1c" stroke-width="1.5"/>
<rect x="990.8" y="565.90" width="79.7" height="38.50" fill="none" stroke="#1b1c1e" stroke-width="1.5"/>
<rect x="1070.5" y="565.90" width="84.5" height="38.50" fill="none" stroke="#1b1c1e" stroke-width="1.5"/>
<rect x="1155.0" y="565.90" width="79.7" height="38.50" fill="none" stroke="#1a1c1f" stroke-width="1.5"/>
<rect x="220.3" y="604.40" width="93.0" height="38.30" fill="none" stroke="#301316" stroke-width="1.5"/>
<rect x="313.3" y="604.40" width="84.4" height="38.30" fill="none" stroke="#311315" stroke-width="1.5"/>
<rect x="397.7" y="604.40" width="84.0" height="38.30" fill="none" stroke="#301315" stroke-width="1.5"/>
<rect x="481.7" y="604.40" width="85.0" height="38.30" fill="none" stroke="#2e1416" stroke-width="1.5"/>
<rect x="566.7" y="604.40" width="84.5" height="38.30" fill="none" stroke="#2b1517" stroke-width="1.5"/>
<rect x="651.2" y="604.40" width="79.6" height="38.30" fill="none" stroke="#2a1618" stroke-width="1.5"/>
<rect x="730.8" y="604.40" width="97.5" height="38.30" fill="none" stroke="#271719" stroke-width="1.5"/>
<rect x="828.3" y="604.40" width="79.9" height="38.30" fill="none" stroke="#261819" stroke-width="1.5"/>
<rect x="908.2" y="604.40" width="82.6" height="38.30" fill="none" stroke="#23191a" stroke-width="1.5"/>
<rect x="990.8" y="604.40" width="79.7" height="38.30" fill="none" stroke="#1e1b1c" stroke-width="1.5"/>
<rect x="1070.5" y="604.40" width="84.5" height="38.30" fill="none" stroke="#1b1c1e" stroke-width="1.5"/>
<rect x="1155.0" y="604.40" width="79.7" height="38.30" fill="none" stroke="#1b1c1e" stroke-width="1.5"/>
<rect x="220.3" y="642.70" width="93.0" height="38.60" fill="none" stroke="#301315" stroke-width="1.5"/>
<rect x="313.3" y="642.70" width="84.4" height="38.60" fill="none" stroke="#311315" stroke-width="1.5"/>
<rect x="481.7" y="642.70" width="85.0" height="38.60" fill="none" stroke="#311315" stroke-width="1.5"/>
<rect x="566.7" y="642.70" width="84.5" height="38.60" fill="none" stroke="#2f1316" stroke-width="1.5"/>
<rect x="730.8" y="642.70" width="97.5" height="38.60" fill="none" stroke="#2b1517" stroke-width="1.5"/>
<rect x="908.2" y="642.70" width="82.6" height="38.60" fill="none" stroke="#271719" stroke-width="1.5"/>
<rect x="1070.5" y="642.70" width="84.5" height="38.60" fill="none" stroke="#1f1b1c" stroke-width="1.5"/>
<rect x="108.0" y="681.30" width="112.3" height="38.40" fill="none" stroke="#2d1416" stroke-width="1.5"/>
<rect x="220.3" y="681.30" width="93.0" height="38.40" fill="none" stroke="#311315" stroke-width="1.5"/>
<rect x="313.3" y="681.30" width="84.4" height="38.40" fill="none" stroke="#331214" stroke-width="1.5"/>
<rect x="397.7" y="681.30" width="84.0" height="38.40" fill="none" stroke="#331214" stroke-width="1.5"/>
<rect x="481.7" y="681.30" width="85.0" height="38.40" fill="none" stroke="#301315" stroke-width="1.5"/>
<rect x="566.7" y="681.30" width="84.5" height="38.40" fill="none" stroke="#301315" stroke-width="1.5"/>
<rect x="651.2" y="681.30" width="79.6" height="38.40" fill="none" stroke="#2f1316" stroke-width="1.5"/>
<rect x="730.8" y="681.30" width="97.5" height="38.40" fill="none" stroke="#2d1417" stroke-width="1.5"/>
<rect x="828.3" y="681.30" width="79.9" height="38.40" fill="none" stroke="#2b1517" stroke-width="1.5"/>
<rect x="908.2" y="681.30" width="82.6" height="38.40" fill="none" stroke="#281618" stroke-width="1.5"/>
<rect x="990.8" y="681.30" width="79.7" height="38.40" fill="none" stroke="#22191b" stroke-width="1.5"/>
<rect x="1070.5" y="681.30" width="84.5" height="38.40" fill="none" stroke="#1d1b1c" stroke-width="1.5"/>
<rect x="1155.0" y="681.30" width="79.7" height="38.40" fill="none" stroke="#1b1c1e" stroke-width="1.5"/>
<rect x="108.0" y="719.70" width="112.3" height="38.20" fill="none" stroke="#1b1c1e" stroke-width="1.5"/>
<rect x="220.3" y="719.70" width="93.0" height="38.20" fill="none" stroke="#3a0f12" stroke-width="1.5"/>
<rect x="313.3" y="719.70" width="84.4" height="38.20" fill="none" stroke="#3a0f12" stroke-width="1.5"/>
<rect x="397.7" y="719.70" width="84.0" height="38.20" fill="none" stroke="#390f12" stroke-width="1.5"/>
<rect x="481.7" y="719.70" width="85.0" height="38.20" fill="none" stroke="#381013" stroke-width="1.5"/>
<rect x="566.7" y="719.70" width="84.5" height="38.20" fill="none" stroke="#361013" stroke-width="1.5"/>
<rect x="651.2" y="719.70" width="79.6" height="38.20" fill="none" stroke="#361113" stroke-width="1.5"/>
<rect x="730.8" y="719.70" width="97.5" height="38.20" fill="none" stroke="#361013" stroke-width="1.5"/>
<rect x="828.3" y="719.70" width="79.9" height="38.20" fill="none" stroke="#361013" stroke-width="1.5"/>
<rect x="908.2" y="719.70" width="82.6" height="38.20" fill="none" stroke="#331214" stroke-width="1.5"/>
<rect x="990.8" y="719.70" width="79.7" height="38.20" fill="none" stroke="#2c1517" stroke-width="1.5"/>
<rect x="1070.5" y="719.70" width="84.5" height="38.20" fill="none" stroke="#291618" stroke-width="1.5"/>
<rect x="1155.0" y="719.70" width="79.7" height="38.20" fill="none" stroke="#23191a" stroke-width="1.5"/>
<text class="hd" x="127.8 137.5 150.8" y="93.92" xml:space="preserve">1 年</text>
<text class="hd" x="240.1 249.8 263.1" y="93.92" xml:space="preserve">2 年</text>
<text class="hd" x="333.1 342.8 356.1" y="93.92" xml:space="preserve">3 年</text>
<text class="hd" x="417.5 427.2 440.5" y="93.92" xml:space="preserve">4 年</text>
<text class="hd" x="501.5 511.2 524.5" y="93.92" xml:space="preserve">5 年</text>
<text class="hd" x="586.5 596.2 609.5" y="93.92" xml:space="preserve">6 年</text>
<text class="hd" x="671.0 680.7 694.0" y="93.92" xml:space="preserve">7 年</text>
<text class="hd" x="750.6 760.3 773.6" y="93.92" xml:space="preserve">8 年</text>
<text class="hd" x="848.1 857.8 871.1" y="93.92" xml:space="preserve">9 年</text>
<text class="hd" x="928.0 941.0 950.7 964.0" y="93.92" xml:space="preserve">10 年</text>
<text class="hd" x="1010.6 1023.6 1033.3 1046.6" y="93.92" xml:space="preserve">15 年</text>
<text class="hd" x="1090.3 1103.3 1113.0 1126.3" y="93.92" xml:space="preserve">20 年</text>
<text class="hd" x="1174.8 1187.8 1197.5 1210.8" y="93.92" xml:space="preserve">30 年</text>
<text class="ct" x="26.2" y="131.60">中国</text>
<text class="num" fill="#17222f" y="132.40" x="127.7 136.5 150.2 161.6">2.62</text>
<text class="num" fill="#172230" y="132.40" x="240.0 248.8 262.6 273.9">2.70</text>
<text class="num" fill="#162230" y="132.40" x="332.9 341.8 355.6 366.9">2.79</text>
<text class="num" fill="#162230" y="132.40" x="417.3 426.2 439.9 451.2">2.87</text>
<text class="num" fill="#162231" y="132.40" x="501.3 510.2 523.9 535.2">2.96</text>
<text class="num" fill="#162231" y="132.40" x="586.4 595.2 609.0 620.2">3.05</text>
<text class="num" fill="#162231" y="132.40" x="670.9 679.7 693.5 704.8">3.08</text>
<text class="num" fill="#162231" y="132.40" x="750.4 759.3 773.0 784.3">3.07</text>
<text class="num" fill="#162231" y="132.40" x="847.9 856.8 870.5 881.8">3.06</text>
<text class="num" fill="#162231" y="132.40" x="927.9 936.7 950.5 961.8">3.05</text>
<text class="num" fill="#152233" y="132.40" x="1010.4 1019.3 1033.0 1044.4">3.36</text>
<text class="num" fill="#152233" y="132.40" x="1090.2 1099.0 1112.8 1124.1">3.39</text>
<text class="num" fill="#142234" y="132.40" x="1174.7 1183.5 1197.2 1208.6">3.66</text>
<text class="ct" x="26.2" y="170.00">美国</text>
<text class="num" fill="#19212b" y="170.88" x="127.7 136.5 150.2 161.6">1.82</text>
<text class="num" fill="#1a212a" y="170.88" x="240.0 248.8 262.6 273.9">1.60</text>
<text class="num" fill="#1a212a" y="170.88" x="332.9 341.8 355.6 366.9">1.53</text>
<text class="num" fill="#1a212a" y="170.88" x="417.3 426.2 439.9 451.2">1.51</text>
<text class="num" fill="#1a212a" y="170.88" x="501.3 510.2 523.9 535.2">1.52</text>
<text class="num" fill="#1a212a" y="170.88" x="670.9 679.7 693.5 704.8">1.56</text>
<text class="num" fill="#1a212a" y="170.88" x="750.4 759.3 773.0 784.3">1.58</text>
<text class="num" fill="#1a212a" y="170.88" x="847.9 856.8 870.5 881.8">1.59</text>
<text class="num" fill="#1a212a" y="170.88" x="927.9 936.7 950.5 961.8">1.61</text>
<text class="num" fill="#1a212b" y="170.88" x="1010.4 1019.3 1033.0 1044.4">1.74</text>
<text class="num" fill="#19212c" y="170.88" x="1090.2 1099.0 1112.8 1124.1">1.90</text>
<text class="num" fill="#19212d" y="170.88" x="1174.7 1183.5 1197.2 1208.6">2.10</text>
<text class="ct" x="26.2" y="208.70">意大利</text>
<text class="num" fill="#1f2022" y="209.66"><tspan class="dash" x="126.4" dy="1.8">-</tspan><tspan dy="-1.8" x="139.0 147.8 161.6 172.8">0.10</tspan></text>
<text class="num" fill="#1f2022" y="209.66"><tspan class="dash" x="238.7" dy="1.8">-</tspan><tspan dy="-1.8" x="251.3 260.1 273.9 285.1">0.03</tspan></text>
<text class="num" fill="#1e2024" y="209.66" x="332.9 341.8 355.6 366.9">0.33</text>
<text class="num" fill="#1d2025" y="209.66" x="417.3 426.2 439.9 451.2">0.49</text>
<text class="num" fill="#1d2126" y="209.66" x="501.3 510.2 523.9 535.2">0.71</text>
<text class="num" fill="#1d2126" y="209.66" x="586.4 595.2 609.0 620.2">0.77</text>
<text class="num" fill="#1c2127" y="209.66" x="670.9 679.7 693.5 704.8">0.98</text>
<text class="num" fill="#1c2127" y="209.66" x="750.4 759.3 773.0 784.3">1.03</text>
<text class="num" fill="#1c2128" y="209.66" x="847.9 856.8 870.5 881.8">1.06</text>
<text class="num" fill="#1b2129" y="209.66" x="927.9 936.7 950.5 961.8">1.30</text>
<text class="num" fill="#19212b" y="209.66" x="1010.4 1019.3 1033.0 1044.4">1.82</text>
<text class="num" fill="#19212c" y="209.66" x="1090.2 1099.0 1112.8 1124.1">2.00</text>
<text class="num" fill="#18212e" y="209.66" x="1174.7 1183.5 1197.2 1208.6">2.37</text>
<text class="ct" x="26.2" y="247.05">挪威</text>
<text class="num" fill="#1b2128" y="248.09" x="127.7 136.5 150.2 161.6">1.23</text>
<text class="num" fill="#1c2128" y="248.09" x="240.0 248.8 262.6 273.9">1.13</text>
<text class="num" fill="#1c2128" y="248.09" x="417.3 426.2 439.9 451.2">1.11</text>
<text class="num" fill="#1c2128" y="248.09" x="501.3 510.2 523.9 535.2">1.11</text>
<text class="num" fill="#1c2128" y="248.09" x="586.4 595.2 609.0 620.2">1.10</text>
<text class="num" fill="#1c2128" y="248.09" x="670.9 679.7 693.5 704.8">1.12</text>
<text class="num" fill="#1c2128" y="248.09" x="750.4 759.3 773.0 784.3">1.13</text>
<text class="num" fill="#1b2128" y="248.09" x="847.9 856.8 870.5 881.8">1.14</text>
<text class="num" fill="#1b2128" y="248.09" x="927.9 936.7 950.5 961.8">1.19</text>
<text class="ct" x="26.2" y="285.15">英国</text>
<text class="num" fill="#1d2025" y="286.27" x="127.7 136.5 150.2 161.6">0.58</text>
<text class="num" fill="#1d2025" y="286.27" x="240.0 248.8 262.6 273.9">0.51</text>
<text class="num" fill="#1e2024" y="286.27" x="332.9 341.8 355.6 366.9">0.41</text>
<text class="num" fill="#1e2024" y="286.27" x="417.3 426.2 439.9 451.2">0.42</text>
<text class="num" fill="#1e2024" y="286.27" x="501.3 510.2 523.9 535.2">0.41</text>
<text class="num" fill="#1e2024" y="286.27" x="586.4 595.2 609.0 620.2">0.37</text>
<text class="num" fill="#1e2024" y="286.27" x="670.9 679.7 693.5 704.8">0.40</text>
<text class="num" fill="#1e2024" y="286.27" x="750.4 759.3 773.0 784.3">0.44</text>
<text class="num" fill="#1e2024" y="286.27" x="847.9 856.8 870.5 881.8">0.42</text>
<text class="num" fill="#1d2025" y="286.27" x="927.9 936.7 950.5 961.8">0.52</text>
<text class="num" fill="#1c2126" y="286.27" x="1010.4 1019.3 1033.0 1044.4">0.81</text>
<text class="num" fill="#1c2127" y="286.27" x="1090.2 1099.0 1112.8 1124.1">0.97</text>
<text class="num" fill="#1c2128" y="286.27" x="1174.7 1183.5 1197.2 1208.6">1.09</text>
<text class="ct" x="26.2" y="323.70">西班牙</text>
<text class="num" fill="#281d1e" y="324.91"><tspan class="dash" x="126.4" dy="1.8">-</tspan><tspan dy="-1.8" x="139.0 147.8 161.6 172.8">0.52</tspan></text>
<text class="num" fill="#291c1e" y="324.91"><tspan class="dash" x="238.7" dy="1.8">-</tspan><tspan dy="-1.8" x="251.3 260.1 273.9 285.1">0.55</tspan></text>
<text class="num" fill="#281d1e" y="324.91"><tspan class="dash" x="331.6" dy="1.8">-</tspan><tspan dy="-1.8" x="344.2 353.1 366.9 378.1">0.52</tspan></text>
<text class="num" fill="#221f20" y="324.91"><tspan class="dash" x="416.0" dy="1.8">-</tspan><tspan dy="-1.8" x="428.6 437.5 451.2 462.5">0.38</tspan></text>
<text class="num" fill="#202021" y="324.91"><tspan class="dash" x="500.0" dy="1.8">-</tspan><tspan dy="-1.8" x="512.6 521.5 535.2 546.5">0.32</tspan></text>
<text class="num" fill="#1f2021" y="324.91"><tspan class="dash" x="585.1" dy="1.8">-</tspan><tspan dy="-1.8" x="597.6 606.5 620.2 631.6">0.18</tspan></text>
<text class="num" fill="#1f2022" y="324.91"><tspan class="dash" x="669.6" dy="1.8">-</tspan><tspan dy="-1.8" x="682.1 691.0 704.8 716.1">0.09</tspan></text>
<text class="num" fill="#1f2022" y="324.91"><tspan class="dash" x="749.1" dy="1.8">-</tspan><tspan dy="-1.8" x="761.7 770.6 784.3 795.6">0.03</tspan></text>
<text class="num" fill="#1f2022" y="324.91" x="847.9 856.8 870.5 881.8">0.03</text>
<text class="num" fill="#1f2023" y="324.91" x="927.9 936.7 950.5 961.8">0.14</text>
<text class="num" fill="#1d2025" y="324.91" x="1010.4 1019.3 1033.0 1044.4">0.54</text>
<text class="num" fill="#1d2025" y="324.91" x="1090.2 1099.0 1112.8 1124.1">0.55</text>
<text class="num" fill="#1c2127" y="324.91" x="1174.7 1183.5 1197.2 1208.6">1.02</text>
<text class="ct" x="26.2" y="362.05">爱尔兰</text>
<text class="num" fill="#2a1b1d" y="363.34"><tspan class="dash" x="126.4" dy="1.8">-</tspan><tspan dy="-1.8" x="139.0 147.8 161.6 172.8">0.59</tspan></text>
<text class="num" fill="#2b1b1d" y="363.34"><tspan class="dash" x="331.6" dy="1.8">-</tspan><tspan dy="-1.8" x="344.2 353.1 366.9 378.1">0.61</tspan></text>
<text class="num" fill="#2a1c1d" y="363.34"><tspan class="dash" x="416.0" dy="1.8">-</tspan><tspan dy="-1.8" x="428.6 437.5 451.2 462.5">0.58</tspan></text>
<text class="num" fill="#271d1e" y="363.34"><tspan class="dash" x="500.0" dy="1.8">-</tspan><tspan dy="-1.8" x="512.6 521.5 535.2 546.5">0.51</tspan></text>
<text class="num" fill="#231f20" y="363.34"><tspan class="dash" x="585.1" dy="1.8">-</tspan><tspan dy="-1.8" x="597.6 606.5 620.2 631.6">0.39</tspan></text>
<text class="num" fill="#202021" y="363.34"><tspan class="dash" x="669.6" dy="1.8">-</tspan><tspan dy="-1.8" x="682.1 691.0 704.8 716.1">0.31</tspan></text>
<text class="num" fill="#1f2022" y="363.34"><tspan class="dash" x="846.6" dy="1.8">-</tspan><tspan dy="-1.8" x="859.2 868.1 881.8 893.1">0.14</tspan></text>
<text class="num" fill="#1f2022" y="363.34"><tspan class="dash" x="926.6" dy="1.8">-</tspan><tspan dy="-1.8" x="939.1 948.0 961.8 973.1">0.03</tspan></text>
<text class="num" fill="#1e2024" y="363.34" x="1010.4 1019.3 1033.0 1044.4">0.29</text>
<text class="num" fill="#1d2025" y="363.34" x="1090.2 1099.0 1112.8 1124.1">0.49</text>
<text class="num" fill="#1c2126" y="363.34" x="1174.7 1183.5 1197.2 1208.6">0.83</text>
<text class="ct" x="26.2" y="400.40">日本</text>
<text class="num" fill="#202021" y="401.77"><tspan class="dash" x="126.4" dy="1.8">-</tspan><tspan dy="-1.8" x="139.0 147.8 161.6 172.8">0.26</tspan></text>
<text class="num" fill="#202021" y="401.77"><tspan class="dash" x="238.7" dy="1.8">-</tspan><tspan dy="-1.8" x="251.3 260.1 273.9 285.1">0.31</tspan></text>
<text class="num" fill="#202021" y="401.77"><tspan class="dash" x="331.6" dy="1.8">-</tspan><tspan dy="-1.8" x="344.2 353.1 366.9 378.1">0.30</tspan></text>
<text class="num" fill="#202021" y="401.77"><tspan class="dash" x="416.0" dy="1.8">-</tspan><tspan dy="-1.8" x="428.6 437.5 451.2 462.5">0.33</tspan></text>
<text class="num" fill="#211f20" y="401.77"><tspan class="dash" x="500.0" dy="1.8">-</tspan><tspan dy="-1.8" x="512.6 521.5 535.2 546.5">0.34</tspan></text>
<text class="num" fill="#211f20" y="401.77"><tspan class="dash" x="585.1" dy="1.8">-</tspan><tspan dy="-1.8" x="597.6 606.5 620.2 631.6">0.35</tspan></text>
<text class="num" fill="#221f20" y="401.77"><tspan class="dash" x="669.6" dy="1.8">-</tspan><tspan dy="-1.8" x="682.1 691.0 704.8 716.1">0.36</tspan></text>
<text class="num" fill="#211f20" y="401.77"><tspan class="dash" x="749.1" dy="1.8">-</tspan><tspan dy="-1.8" x="761.7 770.6 784.3 795.6">0.35</tspan></text>
<text class="num" fill="#202021" y="401.77"><tspan class="dash" x="846.6" dy="1.8">-</tspan><tspan dy="-1.8" x="859.2 868.1 881.8 893.1">0.30</tspan></text>
<text class="num" fill="#202021" y="401.77"><tspan class="dash" x="926.6" dy="1.8">-</tspan><tspan dy="-1.8" x="939.1 948.0 961.8 973.1">0.24</tspan></text>
<text class="num" fill="#1f2022" y="401.77"><tspan class="dash" x="1009.1" dy="1.8">-</tspan><tspan dy="-1.8" x="1021.7 1030.6 1044.4 1055.7">0.06</tspan></text>
<text class="num" fill="#1f2023" y="401.77" x="1090.2 1099.0 1112.8 1124.1">0.08</text>
<text class="num" fill="#1e2023" y="401.77" x="1174.7 1183.5 1197.2 1208.6">0.19</text>
<text class="ct" x="26.2" y="439.05">瑞典</text>
<text class="num" fill="#2c1a1c" y="440.50"><tspan class="dash" x="238.7" dy="1.8">-</tspan><tspan dy="-1.8" x="251.3 260.1 273.9 285.1">0.65</tspan></text>
<text class="num" fill="#2f191b" y="440.50"><tspan class="dash" x="416.0" dy="1.8">-</tspan><tspan dy="-1.8" x="428.6 437.5 451.2 462.5">0.72</tspan></text>
<text class="num" fill="#2e1a1c" y="440.50"><tspan class="dash" x="500.0" dy="1.8">-</tspan><tspan dy="-1.8" x="512.6 521.5 535.2 546.5">0.68</tspan></text>
<text class="num" fill="#2a1b1d" y="440.50"><tspan class="dash" x="585.1" dy="1.8">-</tspan><tspan dy="-1.8" x="597.6 606.5 620.2 631.6">0.59</tspan></text>
<text class="num" fill="#271d1e" y="440.50"><tspan class="dash" x="749.1" dy="1.8">-</tspan><tspan dy="-1.8" x="761.7 770.6 784.3 795.6">0.50</tspan></text>
<text class="num" fill="#231e1f" y="440.50"><tspan class="dash" x="846.6" dy="1.8">-</tspan><tspan dy="-1.8" x="859.2 868.1 881.8 893.1">0.41</tspan></text>
<text class="num" fill="#202021" y="440.50"><tspan class="dash" x="926.6" dy="1.8">-</tspan><tspan dy="-1.8" x="939.1 948.0 961.8 973.1">0.29</tspan></text>
<text class="num" fill="#1f2022" y="440.50"><tspan class="dash" x="1009.1" dy="1.8">-</tspan><tspan dy="-1.8" x="1021.7 1030.6 1044.4 1055.7">0.12</tspan></text>
<text class="num" fill="#1f2023" y="440.50" x="1090.2 1099.0 1112.8 1124.1">0.14</text>
<text class="ct" x="26.2" y="477.60">比利时</text>
<text class="num" fill="#2f191b" y="479.13"><tspan class="dash" x="126.4" dy="1.8">-</tspan><tspan dy="-1.8" x="139.0 147.8 161.6 172.8">0.71</tspan></text>
<text class="num" fill="#31191b" y="479.13"><tspan class="dash" x="238.7" dy="1.8">-</tspan><tspan dy="-1.8" x="251.3 260.1 273.9 285.1">0.76</tspan></text>
<text class="num" fill="#31181a" y="479.13"><tspan class="dash" x="331.6" dy="1.8">-</tspan><tspan dy="-1.8" x="344.2 353.1 366.9 378.1">0.78</tspan></text>
<text class="num" fill="#2f191b" y="479.13"><tspan class="dash" x="416.0" dy="1.8">-</tspan><tspan dy="-1.8" x="428.6 437.5 451.2 462.5">0.71</tspan></text>
<text class="num" fill="#2b1b1d" y="479.13"><tspan class="dash" x="500.0" dy="1.8">-</tspan><tspan dy="-1.8" x="512.6 521.5 535.2 546.5">0.62</tspan></text>
<text class="num" fill="#2a1c1d" y="479.13"><tspan class="dash" x="585.1" dy="1.8">-</tspan><tspan dy="-1.8" x="597.6 606.5 620.2 631.6">0.58</tspan></text>
<text class="num" fill="#271d1e" y="479.13"><tspan class="dash" x="669.6" dy="1.8">-</tspan><tspan dy="-1.8" x="682.1 691.0 704.8 716.1">0.51</tspan></text>
<text class="num" fill="#251e1f" y="479.13"><tspan class="dash" x="749.1" dy="1.8">-</tspan><tspan dy="-1.8" x="761.7 770.6 784.3 795.6">0.45</tspan></text>
<text class="num" fill="#221f20" y="479.13"><tspan class="dash" x="846.6" dy="1.8">-</tspan><tspan dy="-1.8" x="859.2 868.1 881.8 893.1">0.37</tspan></text>
<text class="num" fill="#202021" y="479.13"><tspan class="dash" x="926.6" dy="1.8">-</tspan><tspan dy="-1.8" x="939.1 948.0 961.8 973.1">0.30</tspan></text>
<text class="num" fill="#1f2022" y="479.13" x="1010.4 1019.3 1033.0 1044.4">0.00</text>
<text class="num" fill="#1e2023" y="479.13" x="1090.2 1099.0 1112.8 1124.1">0.23</text>
<text class="num" fill="#1d2025" y="479.13" x="1174.7 1183.5 1197.2 1208.6">0.60</text>
<text class="ct" x="26.2" y="516.10">法国</text>
<text class="num" fill="#2e1a1b" y="517.71"><tspan class="dash" x="126.4" dy="1.8">-</tspan><tspan dy="-1.8" x="139.0 147.8 161.6 172.8">0.70</tspan></text>
<text class="num" fill="#31191b" y="517.71"><tspan class="dash" x="238.7" dy="1.8">-</tspan><tspan dy="-1.8" x="251.3 260.1 273.9 285.1">0.76</tspan></text>
<text class="num" fill="#32181a" y="517.71"><tspan class="dash" x="331.6" dy="1.8">-</tspan><tspan dy="-1.8" x="344.2 353.1 366.9 378.1">0.81</tspan></text>
<text class="num" fill="#31181a" y="517.71"><tspan class="dash" x="416.0" dy="1.8">-</tspan><tspan dy="-1.8" x="428.6 437.5 451.2 462.5">0.78</tspan></text>
<text class="num" fill="#2f191b" y="517.71"><tspan class="dash" x="500.0" dy="1.8">-</tspan><tspan dy="-1.8" x="512.6 521.5 535.2 546.5">0.72</tspan></text>
<text class="num" fill="#2d1a1c" y="517.71"><tspan class="dash" x="585.1" dy="1.8">-</tspan><tspan dy="-1.8" x="597.6 606.5 620.2 631.6">0.66</tspan></text>
<text class="num" fill="#2a1c1d" y="517.71"><tspan class="dash" x="669.6" dy="1.8">-</tspan><tspan dy="-1.8" x="682.1 691.0 704.8 716.1">0.58</tspan></text>
<text class="num" fill="#271d1e" y="517.71"><tspan class="dash" x="749.1" dy="1.8">-</tspan><tspan dy="-1.8" x="761.7 770.6 784.3 795.6">0.51</tspan></text>
<text class="num" fill="#251e1f" y="517.71"><tspan class="dash" x="846.6" dy="1.8">-</tspan><tspan dy="-1.8" x="859.2 868.1 881.8 893.1">0.44</tspan></text>
<text class="num" fill="#221f20" y="517.71"><tspan class="dash" x="926.6" dy="1.8">-</tspan><tspan dy="-1.8" x="939.1 948.0 961.8 973.1">0.36</tspan></text>
<text class="num" fill="#1f2022" y="517.71"><tspan class="dash" x="1009.1" dy="1.8">-</tspan><tspan dy="-1.8" x="1021.7 1030.6 1044.4 1055.7">0.04</tspan></text>
<text class="num" fill="#1f2023" y="517.71" x="1090.2 1099.0 1112.8 1124.1">0.07</text>
<text class="num" fill="#1d2025" y="517.71" x="1174.7 1183.5 1197.2 1208.6">0.51</text>
<text class="ct" x="26.2" y="554.60">芬兰</text>
<text class="num" fill="#2f191b" y="556.29"><tspan class="dash" x="126.4" dy="1.8">-</tspan><tspan dy="-1.8" x="139.0 147.8 161.6 172.8">0.73</tspan></text>
<text class="num" fill="#32181a" y="556.29"><tspan class="dash" x="238.7" dy="1.8">-</tspan><tspan dy="-1.8" x="251.3 260.1 273.9 285.1">0.79</tspan></text>
<text class="num" fill="#31181a" y="556.29"><tspan class="dash" x="331.6" dy="1.8">-</tspan><tspan dy="-1.8" x="344.2 353.1 366.9 378.1">0.78</tspan></text>
<text class="num" fill="#31181b" y="556.29"><tspan class="dash" x="416.0" dy="1.8">-</tspan><tspan dy="-1.8" x="428.6 437.5 451.2 462.5">0.77</tspan></text>
<text class="num" fill="#30191b" y="556.29"><tspan class="dash" x="500.0" dy="1.8">-</tspan><tspan dy="-1.8" x="512.6 521.5 535.2 546.5">0.74</tspan></text>
<text class="num" fill="#2c1b1c" y="556.29"><tspan class="dash" x="585.1" dy="1.8">-</tspan><tspan dy="-1.8" x="597.6 606.5 620.2 631.6">0.64</tspan></text>
<text class="num" fill="#2b1b1d" y="556.29"><tspan class="dash" x="669.6" dy="1.8">-</tspan><tspan dy="-1.8" x="682.1 691.0 704.8 716.1">0.60</tspan></text>
<text class="num" fill="#271d1e" y="556.29"><tspan class="dash" x="749.1" dy="1.8">-</tspan><tspan dy="-1.8" x="761.7 770.6 784.3 795.6">0.51</tspan></text>
<text class="num" fill="#251e1f" y="556.29"><tspan class="dash" x="846.6" dy="1.8">-</tspan><tspan dy="-1.8" x="859.2 868.1 881.8 893.1">0.46</tspan></text>
<text class="num" fill="#221f20" y="556.29"><tspan class="dash" x="926.6" dy="1.8">-</tspan><tspan dy="-1.8" x="939.1 948.0 961.8 973.1">0.38</tspan></text>
<text class="num" fill="#1f2021" y="556.29"><tspan class="dash" x="1009.1" dy="1.8">-</tspan><tspan dy="-1.8" x="1021.7 1030.6 1044.4 1055.7">0.18</tspan></text>
<text class="num" fill="#1f2023" y="556.29" x="1174.7 1183.5 1197.2 1208.6">0.11</text>
<text class="ct" x="26.2" y="593.15">奥地利</text>
<text class="num" fill="#2e1a1b" y="594.93"><tspan class="dash" x="126.4" dy="1.8">-</tspan><tspan dy="-1.8" x="139.0 147.8 161.6 172.8">0.70</tspan></text>
<text class="num" fill="#31181b" y="594.93"><tspan class="dash" x="238.7" dy="1.8">-</tspan><tspan dy="-1.8" x="251.3 260.1 273.9 285.1">0.77</tspan></text>
<text class="num" fill="#31181a" y="594.93"><tspan class="dash" x="331.6" dy="1.8">-</tspan><tspan dy="-1.8" x="344.2 353.1 366.9 378.1">0.78</tspan></text>
<text class="num" fill="#31191b" y="594.93"><tspan class="dash" x="416.0" dy="1.8">-</tspan><tspan dy="-1.8" x="428.6 437.5 451.2 462.5">0.76</tspan></text>
<text class="num" fill="#2e1a1b" y="594.93"><tspan class="dash" x="500.0" dy="1.8">-</tspan><tspan dy="-1.8" x="512.6 521.5 535.2 546.5">0.70</tspan></text>
<text class="num" fill="#2d1a1c" y="594.93"><tspan class="dash" x="585.1" dy="1.8">-</tspan><tspan dy="-1.8" x="597.6 606.5 620.2 631.6">0.66</tspan></text>
<text class="num" fill="#291c1d" y="594.93"><tspan class="dash" x="669.6" dy="1.8">-</tspan><tspan dy="-1.8" x="682.1 691.0 704.8 716.1">0.57</tspan></text>
<text class="num" fill="#281c1e" y="594.93"><tspan class="dash" x="749.1" dy="1.8">-</tspan><tspan dy="-1.8" x="761.7 770.6 784.3 795.6">0.54</tspan></text>
<text class="num" fill="#261d1f" y="594.93"><tspan class="dash" x="846.6" dy="1.8">-</tspan><tspan dy="-1.8" x="859.2 868.1 881.8 893.1">0.48</tspan></text>
<text class="num" fill="#231f20" y="594.93"><tspan class="dash" x="926.6" dy="1.8">-</tspan><tspan dy="-1.8" x="939.1 948.0 961.8 973.1">0.40</tspan></text>
<text class="num" fill="#1f2022" y="594.93"><tspan class="dash" x="1009.1" dy="1.8">-</tspan><tspan dy="-1.8" x="1021.7 1030.6 1044.4 1055.7">0.13</tspan></text>
<text class="num" fill="#1f2022" y="594.93"><tspan class="dash" x="1088.9" dy="1.8">-</tspan><tspan dy="-1.8" x="1101.5 1110.3 1124.1 1135.4">0.03</tspan></text>
<text class="num" fill="#1e2023" y="594.93" x="1174.7 1183.5 1197.2 1208.6">0.23</text>
<text class="ct" x="26.2" y="631.55">荷兰</text>
<text class="num" fill="#34171a" y="633.41"><tspan class="dash" x="238.7" dy="1.8">-</tspan><tspan dy="-1.8" x="251.3 260.1 273.9 285.1">0.84</tspan></text>
<text class="num" fill="#351719" y="633.41"><tspan class="dash" x="331.6" dy="1.8">-</tspan><tspan dy="-1.8" x="344.2 353.1 366.9 378.1">0.88</tspan></text>
<text class="num" fill="#341719" y="633.41"><tspan class="dash" x="416.0" dy="1.8">-</tspan><tspan dy="-1.8" x="428.6 437.5 451.2 462.5">0.86</tspan></text>
<text class="num" fill="#32181a" y="633.41"><tspan class="dash" x="500.0" dy="1.8">-</tspan><tspan dy="-1.8" x="512.6 521.5 535.2 546.5">0.79</tspan></text>
<text class="num" fill="#2f191b" y="633.41"><tspan class="dash" x="585.1" dy="1.8">-</tspan><tspan dy="-1.8" x="597.6 606.5 620.2 631.6">0.73</tspan></text>
<text class="num" fill="#2e1a1c" y="633.41"><tspan class="dash" x="669.6" dy="1.8">-</tspan><tspan dy="-1.8" x="682.1 691.0 704.8 716.1">0.68</tspan></text>
<text class="num" fill="#2b1b1d" y="633.41"><tspan class="dash" x="749.1" dy="1.8">-</tspan><tspan dy="-1.8" x="761.7 770.6 784.3 795.6">0.61</tspan></text>
<text class="num" fill="#2a1c1d" y="633.41"><tspan class="dash" x="846.6" dy="1.8">-</tspan><tspan dy="-1.8" x="859.2 868.1 881.8 893.1">0.58</tspan></text>
<text class="num" fill="#271d1e" y="633.41"><tspan class="dash" x="926.6" dy="1.8">-</tspan><tspan dy="-1.8" x="939.1 948.0 961.8 973.1">0.51</tspan></text>
<text class="num" fill="#221f20" y="633.41"><tspan class="dash" x="1009.1" dy="1.8">-</tspan><tspan dy="-1.8" x="1021.7 1030.6 1044.4 1055.7">0.37</tspan></text>
<text class="num" fill="#1f2022" y="633.41"><tspan class="dash" x="1088.9" dy="1.8">-</tspan><tspan dy="-1.8" x="1101.5 1110.3 1124.1 1135.4">0.14</tspan></text>
<text class="num" fill="#1f2022" y="633.41"><tspan class="dash" x="1173.4" dy="1.8">-</tspan><tspan dy="-1.8" x="1186.0 1194.8 1208.6 1219.9">0.12</tspan></text>
<text class="ct" x="26.2" y="670.00">丹麦</text>
<text class="num" fill="#341719" y="671.94"><tspan class="dash" x="238.7" dy="1.8">-</tspan><tspan dy="-1.8" x="251.3 260.1 273.9 285.1">0.86</tspan></text>
<text class="num" fill="#351719" y="671.94"><tspan class="dash" x="331.6" dy="1.8">-</tspan><tspan dy="-1.8" x="344.2 353.1 366.9 378.1">0.88</tspan></text>
<text class="num" fill="#351719" y="671.94"><tspan class="dash" x="500.0" dy="1.8">-</tspan><tspan dy="-1.8" x="512.6 521.5 535.2 546.5">0.87</tspan></text>
<text class="num" fill="#33171a" y="671.94"><tspan class="dash" x="585.1" dy="1.8">-</tspan><tspan dy="-1.8" x="597.6 606.5 620.2 631.6">0.83</tspan></text>
<text class="num" fill="#2f191b" y="671.94"><tspan class="dash" x="749.1" dy="1.8">-</tspan><tspan dy="-1.8" x="761.7 770.6 784.3 795.6">0.73</tspan></text>
<text class="num" fill="#2b1b1d" y="671.94"><tspan class="dash" x="926.6" dy="1.8">-</tspan><tspan dy="-1.8" x="939.1 948.0 961.8 973.1">0.62</tspan></text>
<text class="num" fill="#231f20" y="671.94"><tspan class="dash" x="1088.9" dy="1.8">-</tspan><tspan dy="-1.8" x="1101.5 1110.3 1124.1 1135.4">0.39</tspan></text>
<text class="ct" x="26.2" y="708.50">德国</text>
<text class="num" fill="#31181a" y="710.52"><tspan class="dash" x="126.4" dy="1.8">-</tspan><tspan dy="-1.8" x="139.0 147.8 161.6 172.8">0.78</tspan></text>
<text class="num" fill="#351719" y="710.52"><tspan class="dash" x="238.7" dy="1.8">-</tspan><tspan dy="-1.8" x="251.3 260.1 273.9 285.1">0.87</tspan></text>
<text class="num" fill="#371618" y="710.52"><tspan class="dash" x="331.6" dy="1.8">-</tspan><tspan dy="-1.8" x="344.2 353.1 366.9 378.1">0.92</tspan></text>
<text class="num" fill="#371618" y="710.52"><tspan class="dash" x="416.0" dy="1.8">-</tspan><tspan dy="-1.8" x="428.6 437.5 451.2 462.5">0.92</tspan></text>
<text class="num" fill="#341719" y="710.52"><tspan class="dash" x="500.0" dy="1.8">-</tspan><tspan dy="-1.8" x="512.6 521.5 535.2 546.5">0.86</tspan></text>
<text class="num" fill="#341719" y="710.52"><tspan class="dash" x="585.1" dy="1.8">-</tspan><tspan dy="-1.8" x="597.6 606.5 620.2 631.6">0.86</tspan></text>
<text class="num" fill="#33171a" y="710.52"><tspan class="dash" x="669.6" dy="1.8">-</tspan><tspan dy="-1.8" x="682.1 691.0 704.8 716.1">0.83</tspan></text>
<text class="num" fill="#31181b" y="710.52"><tspan class="dash" x="749.1" dy="1.8">-</tspan><tspan dy="-1.8" x="761.7 770.6 784.3 795.6">0.77</tspan></text>
<text class="num" fill="#2f191b" y="710.52"><tspan class="dash" x="846.6" dy="1.8">-</tspan><tspan dy="-1.8" x="859.2 868.1 881.8 893.1">0.71</tspan></text>
<text class="num" fill="#2c1a1c" y="710.52"><tspan class="dash" x="926.6" dy="1.8">-</tspan><tspan dy="-1.8" x="939.1 948.0 961.8 973.1">0.65</tspan></text>
<text class="num" fill="#261d1f" y="710.52"><tspan class="dash" x="1009.1" dy="1.8">-</tspan><tspan dy="-1.8" x="1021.7 1030.6 1044.4 1055.7">0.48</tspan></text>
<text class="num" fill="#211f20" y="710.52"><tspan class="dash" x="1088.9" dy="1.8">-</tspan><tspan dy="-1.8" x="1101.5 1110.3 1124.1 1135.4">0.34</tspan></text>
<text class="num" fill="#1f2022" y="710.52"><tspan class="dash" x="1173.4" dy="1.8">-</tspan><tspan dy="-1.8" x="1186.0 1194.8 1208.6 1219.9">0.10</tspan></text>
<text class="ct" x="26.2" y="746.80">瑞士</text>
<text class="num" fill="#1f2022" y="748.90"><tspan class="dash" x="126.4" dy="1.8">-</tspan><tspan dy="-1.8" x="139.0 147.8 161.6 172.8">0.13</tspan></text>
<text class="num" fill="#3e1316" y="748.90"><tspan class="dash" x="238.7" dy="1.8">-</tspan><tspan dy="-1.8" x="251.3 260.1 273.9 285.1">1.12</tspan></text>
<text class="num" fill="#3e1316" y="748.90"><tspan class="dash" x="331.6" dy="1.8">-</tspan><tspan dy="-1.8" x="344.2 353.1 366.9 378.1">1.13</tspan></text>
<text class="num" fill="#3d1316" y="748.90"><tspan class="dash" x="416.0" dy="1.8">-</tspan><tspan dy="-1.8" x="428.6 437.5 451.2 462.5">1.09</tspan></text>
<text class="num" fill="#3c1417" y="748.90"><tspan class="dash" x="500.0" dy="1.8">-</tspan><tspan dy="-1.8" x="512.6 521.5 535.2 546.5">1.06</tspan></text>
<text class="num" fill="#3a1417" y="748.90"><tspan class="dash" x="585.1" dy="1.8">-</tspan><tspan dy="-1.8" x="597.6 606.5 620.2 631.6">1.02</tspan></text>
<text class="num" fill="#3a1517" y="748.90"><tspan class="dash" x="669.6" dy="1.8">-</tspan><tspan dy="-1.8" x="682.1 691.0 704.8 716.1">1.01</tspan></text>
<text class="num" fill="#3a1417" y="748.90"><tspan class="dash" x="749.1" dy="1.8">-</tspan><tspan dy="-1.8" x="761.7 770.6 784.3 795.6">1.02</tspan></text>
<text class="num" fill="#3a1417" y="748.90"><tspan class="dash" x="846.6" dy="1.8">-</tspan><tspan dy="-1.8" x="859.2 868.1 881.8 893.1">1.02</tspan></text>
<text class="num" fill="#371618" y="748.90"><tspan class="dash" x="926.6" dy="1.8">-</tspan><tspan dy="-1.8" x="939.1 948.0 961.8 973.1">0.94</tspan></text>
<text class="num" fill="#30191b" y="748.90"><tspan class="dash" x="1009.1" dy="1.8">-</tspan><tspan dy="-1.8" x="1021.7 1030.6 1044.4 1055.7">0.74</tspan></text>
<text class="num" fill="#2d1a1c" y="748.90"><tspan class="dash" x="1088.9" dy="1.8">-</tspan><tspan dy="-1.8" x="1101.5 1110.3 1124.1 1135.4">0.66</tspan></text>
<text class="num" fill="#271d1e" y="748.90"><tspan class="dash" x="1173.4" dy="1.8">-</tspan><tspan dy="-1.8" x="1186.0 1194.8 1208.6 1219.9">0.51</tspan></text>
<text class="ft" x="408" y="786">资料来源：Bloomberg，华泰证券研究所；制表：苏宁金融研究院</text>
</svg>
</body></html>
